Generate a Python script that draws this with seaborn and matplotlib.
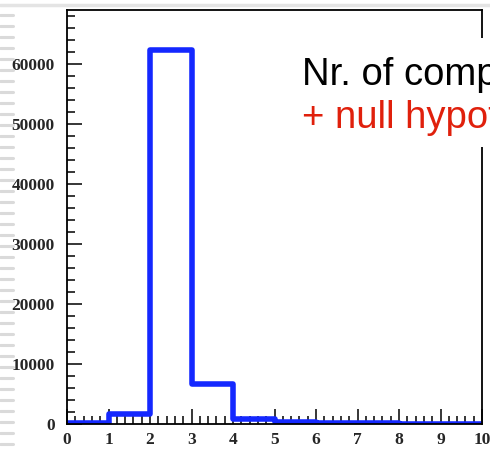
import numpy as np
import matplotlib
matplotlib.use("Agg")
import matplotlib.pyplot as plt
from matplotlib.lines import Line2D
from matplotlib.patches import Rectangle
from matplotlib.ticker import MultipleLocator
import seaborn as sns

# ---- data ----
bin_edges = [0, 1, 2, 3, 4, 5, 6, 7, 8, 9, 10]
bin_centers = [0.5, 1.5, 2.5, 3.5, 4.5, 5.5, 6.5, 7.5, 8.5, 9.5]
counts = [150, 1700, 62300, 6700, 850, 300, 180, 110, 70, 40]
y_ticks = [0, 10000, 20000, 30000, 40000, 50000, 60000]
x_ticks = [0, 1, 2, 3, 4, 5, 6, 7, 8, 9, 10]
title_line1 = "Nr. of comp"
title_line2 = "+ null hypot"

sns.set_style("white")
plt.rcParams["font.family"] = ["Liberation Serif", "DejaVu Serif"]

W, H = 490, 450
fig = plt.figure(figsize=(W / 100, H / 100), dpi=100)
ax = fig.add_axes([67 / W, 1 - 424 / H, (482 - 67) / W, (424 - 10) / H])

sns.histplot(x=bin_centers, weights=counts, bins=bin_edges, element="step",
             fill=False, color="#1428ff", linewidth=4, ax=ax)

ax.set_xlim(0, 10)
ax.set_ylim(0, 69000)
ax.set_xticks(x_ticks)
ax.set_yticks(y_ticks)
ax.set_xticklabels([str(v) for v in x_ticks])
ax.set_yticklabels([str(v) for v in y_ticks])
ax.xaxis.set_minor_locator(MultipleLocator(0.2))
ax.yaxis.set_minor_locator(MultipleLocator(2000))
ax.tick_params(which="both", direction="in", top=False, right=False,
               bottom=True, left=True, color="black", width=1.1)
ax.tick_params(which="major", length=11)
ax.tick_params(which="minor", length=5.5)
ax.tick_params(axis="y", which="major", pad=9, labelsize=12.5)
ax.tick_params(axis="x", which="major", pad=6, labelsize=12.5)
for lab in ax.get_xticklabels() + ax.get_yticklabels():
    lab.set_fontweight("bold")
ax.set_xlabel("")
ax.set_ylabel("")
for s in ax.spines.values():
    s.set_visible(True)
    s.set_color("black")
    s.set_linewidth(1.3)

# slide decorations
fig.add_artist(Line2D([0, 1], [1 - 4.5 / H, 1 - 4.5 / H], transform=fig.transFigure,
                      color="#e4e4e4", linewidth=2.5))
for k in range(40):
    yy = 1 - (15 + 11 * k) / H
    fig.add_artist(Line2D([0, 13 / W], [yy, yy], transform=fig.transFigure,
                          color="#dadada", linewidth=2.2))

# white text box covering part of the frame
fig.add_artist(Rectangle((290 / W, 1 - 147 / H), 1, (147 - 38) / H,
                         transform=fig.transFigure, facecolor="white",
                         edgecolor="none", zorder=5))
fig.text(302 / W, 1 - 85 / H, title_line1, fontsize=27.5, color="black",
         family=["Liberation Sans", "DejaVu Sans"], va="baseline", zorder=6)
fig.text(302 / W, 1 - 128 / H, title_line2, fontsize=27.5, color="#e0200c",
         family=["Liberation Sans", "DejaVu Sans"], va="baseline", zorder=6)

fig.savefig("out.png", dpi=100)
